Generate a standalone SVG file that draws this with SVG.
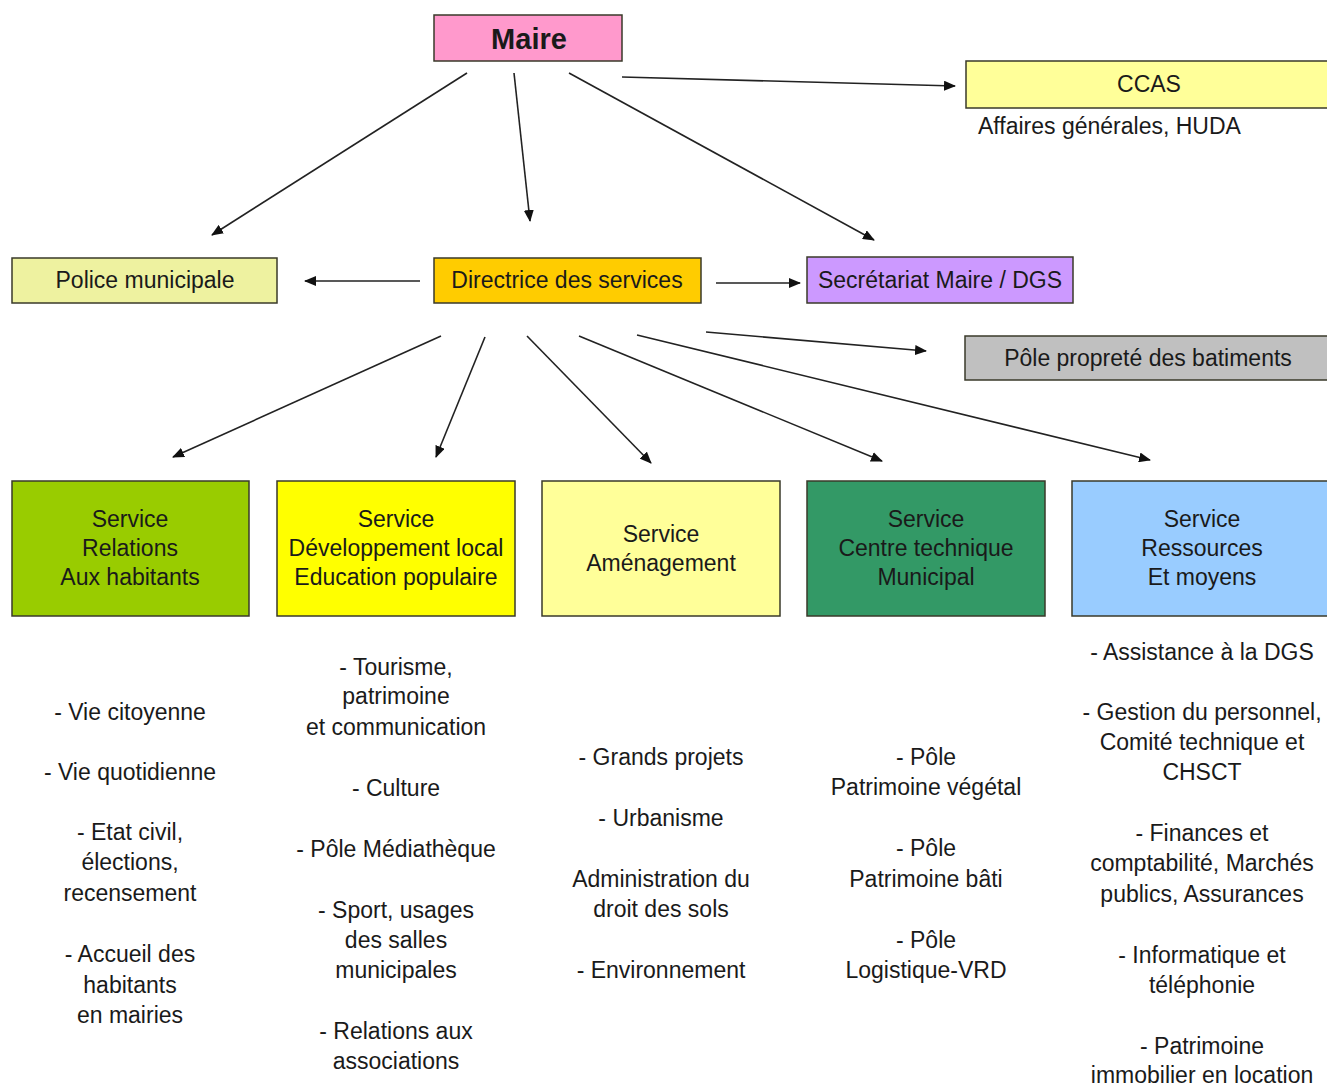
<svg xmlns="http://www.w3.org/2000/svg" width="1327" height="1086" viewBox="0 0 1327 1086">
<style>
  .box { stroke: #3a3a2a; stroke-width: 1.5; }
  text { font-family: "Liberation Sans", Arial, sans-serif; font-size: 23px; fill: #1a1a1a; text-anchor: middle; }
  .title { font-size: 29px; font-weight: bold; }
  .conn line { stroke: #222; stroke-width: 1.6; fill: none; marker-end: url(#arr); }
</style>
<defs>
  <marker id="arr" markerWidth="12" markerHeight="10" refX="11" refY="5" orient="auto" markerUnits="userSpaceOnUse">
    <path d="M0,0 L12,5 L0,10 Z" fill="#111"/>
  </marker>
</defs>
<rect width="1327" height="1086" fill="#ffffff"/>

<g id="maire">
  <rect class="box" x="434" y="15" width="188" height="46" fill="#ff99cc"/>
  <text class="title" x="529" y="49">Maire</text>
</g>
<g id="ccas">
  <rect class="box" x="966" y="61" width="370" height="47" fill="#ffff99"/>
  <text x="1149" y="92">CCAS</text>
  <text x="978" y="134" style="text-anchor:start">Affaires générales, HUDA</text>
</g>
<g id="police">
  <rect class="box" x="12" y="258" width="265" height="45" fill="#eef2a0"/>
  <text x="145" y="288">Police municipale</text>
</g>
<g id="directrice">
  <rect class="box" x="434" y="258" width="267" height="45" fill="#ffcc00"/>
  <text x="567" y="288">Directrice des services</text>
</g>
<g id="secretariat">
  <rect class="box" x="807" y="257" width="266" height="46" fill="#cc99ff"/>
  <text x="940" y="288">Secrétariat Maire / DGS</text>
</g>
<g id="pole-proprete">
  <rect class="box" x="965" y="336" width="370" height="44" fill="#c0c0c0"/>
  <text x="1148" y="366">Pôle propreté des batiments</text>
</g>

<g id="service-relations">
  <rect class="box" x="12" y="481" width="237" height="135" fill="#99cc00"/>
  <text x="130" y="527">Service</text>
  <text x="130" y="556">Relations</text>
  <text x="130" y="585">Aux habitants</text>
  <text x="130" y="720">- Vie citoyenne</text>
  <text x="130" y="780">- Vie quotidienne</text>
  <text x="130" y="840">- Etat civil,</text>
  <text x="130" y="870">élections,</text>
  <text x="130" y="901">recensement</text>
  <text x="130" y="962">- Accueil des</text>
  <text x="130" y="993">habitants</text>
  <text x="130" y="1023">en mairies</text>
</g>
<g id="service-developpement">
  <rect class="box" x="277" y="481" width="238" height="135" fill="#ffff00"/>
  <text x="396" y="527">Service</text>
  <text x="396" y="556">Développement local</text>
  <text x="396" y="585">Education populaire</text>
  <text x="396" y="675">- Tourisme,</text>
  <text x="396" y="704">patrimoine</text>
  <text x="396" y="735">et communication</text>
  <text x="396" y="796">- Culture</text>
  <text x="396" y="857">- Pôle Médiathèque</text>
  <text x="396" y="918">- Sport, usages</text>
  <text x="396" y="948">des salles</text>
  <text x="396" y="978">municipales</text>
  <text x="396" y="1039">- Relations aux</text>
  <text x="396" y="1069">associations</text>
</g>
<g id="service-amenagement">
  <rect class="box" x="542" y="481" width="238" height="135" fill="#ffff99"/>
  <text x="661" y="542">Service</text>
  <text x="661" y="571">Aménagement</text>
  <text x="661" y="765">- Grands projets</text>
  <text x="661" y="826">- Urbanisme</text>
  <text x="661" y="887">Administration du</text>
  <text x="661" y="917">droit des sols</text>
  <text x="661" y="978">- Environnement</text>
</g>
<g id="service-centre-technique">
  <rect class="box" x="807" y="481" width="238" height="135" fill="#339966"/>
  <text x="926" y="527">Service</text>
  <text x="926" y="556">Centre technique</text>
  <text x="926" y="585">Municipal</text>
  <text x="926" y="765">- Pôle</text>
  <text x="926" y="795">Patrimoine végétal</text>
  <text x="926" y="856">- Pôle</text>
  <text x="926" y="887">Patrimoine bâti</text>
  <text x="926" y="948">- Pôle</text>
  <text x="926" y="978">Logistique-VRD</text>
</g>
<g id="service-ressources">
  <rect class="box" x="1072" y="481" width="265" height="135" fill="#99ccff"/>
  <text x="1202" y="527">Service</text>
  <text x="1202" y="556">Ressources</text>
  <text x="1202" y="585">Et moyens</text>
  <text x="1202" y="660">- Assistance à la DGS</text>
  <text x="1202" y="720">- Gestion du personnel,</text>
  <text x="1202" y="750">Comité technique et</text>
  <text x="1202" y="780">CHSCT</text>
  <text x="1202" y="841">- Finances et</text>
  <text x="1202" y="871">comptabilité, Marchés</text>
  <text x="1202" y="902">publics, Assurances</text>
  <text x="1202" y="963">- Informatique et</text>
  <text x="1202" y="993">téléphonie</text>
  <text x="1202" y="1054">- Patrimoine</text>
  <text x="1202" y="1083">immobilier en location</text>
</g>

<g id="connectors" class="conn">
  <line x1="467" y1="73" x2="212" y2="235"/>
  <line x1="514" y1="73" x2="530" y2="221"/>
  <line x1="569" y1="73" x2="874" y2="240"/>
  <line x1="622" y1="77" x2="955" y2="86"/>
  <line x1="420" y1="281" x2="305" y2="281"/>
  <line x1="716" y1="283" x2="800" y2="283"/>
  <line x1="706" y1="332" x2="926" y2="351"/>
  <line x1="441" y1="336" x2="173" y2="457"/>
  <line x1="485" y1="337" x2="436" y2="457"/>
  <line x1="527" y1="336" x2="651" y2="463"/>
  <line x1="579" y1="336" x2="882" y2="461"/>
  <line x1="637" y1="335" x2="1150" y2="460"/>
</g>
</svg>
